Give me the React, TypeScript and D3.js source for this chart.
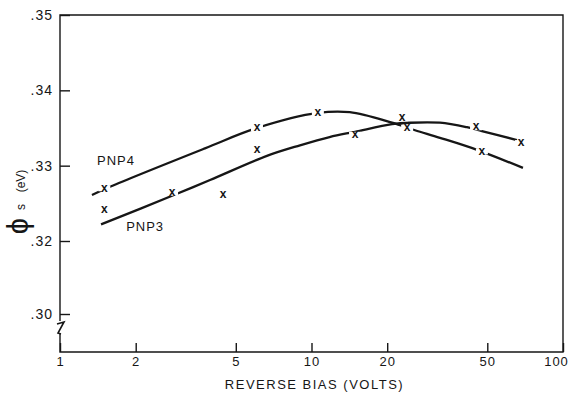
import { useEffect, useRef } from "react";
import * as d3 from "d3";

// smooth curves as drawn (bias in volts, phi_s in eV)
const pnp4CurveBias = [1.34, 1.58, 3.77, 6.07, 10.6, 14.2, 20.9, 25.8, 32.4, 45.5, 69.3];
const pnp4CurvePhi = [0.3261, 0.3272, 0.3323, 0.335, 0.337, 0.3371, 0.3357, 0.3347, 0.3337, 0.3321, 0.3297];
const pnp3CurveBias = [1.456, 2.79, 3.95, 6.65, 9.0, 11.8, 14.9, 20.9, 24.6, 32.4, 41.5, 47.6, 65.6];
const pnp3CurvePhi = [0.3222, 0.326, 0.3281, 0.3313, 0.3327, 0.3338, 0.3345, 0.3355, 0.3357, 0.3357, 0.3351, 0.3346, 0.3334];

// measured points (x marks)
const pnp4PointBias = [1.5, 6.07, 10.6, 24.0, 47.6];
const pnp4PointPhi = [0.327, 0.335, 0.337, 0.335, 0.3319];
const pnp3PointBias = [1.5, 2.79, 4.45, 6.07, 14.9, 22.9, 45.1, 68.1];
const pnp3PointPhi = [0.3241, 0.3264, 0.3262, 0.3321, 0.3341, 0.3363, 0.3351, 0.333];

const biasTicks = [1, 2, 5, 10, 20, 50, 100];
const phiTicks = [0.3, 0.32, 0.33, 0.34, 0.35];

const curveLabels = ["PNP4", "PNP3"];
const curveLabelBias = [1.67, 2.18];
const curveLabelPhi = [0.3301, 0.3213];

const font = "'Liberation Sans', Arial, sans-serif";
const ink = "#161616";

const App = () => {
  const chartRef = useRef<SVGSVGElement>(null);

  useEffect(() => {
    const left = 60;
    const right = 563;
    const top = 15;
    const bottom = 352;

    const svg = d3.select(chartRef.current);
    svg.selectAll("*").remove();

    const x = d3.scaleLog().domain([1, 100]).range([left, right]);
    // broken axis: .30 sits just above the break
    const y = d3.scaleLinear().domain([0.3, 0.32, 0.35]).range([314, 241, top]);

    // frame with the break mark on the left side
    svg
      .append("path")
      .attr("d", `M${left},321 V${top} H${right} V${bottom} H${left} V334`)
      .attr("fill", "none")
      .attr("stroke", ink)
      .attr("stroke-width", 1.4);
    svg
      .append("path")
      .attr("d", `M${left - 3},324 L${left + 4},322 L${left - 2},333 L${left + 1},334`)
      .attr("fill", "none")
      .attr("stroke", ink)
      .attr("stroke-width", 1.6);

    const xAxis = svg
      .append("g")
      .attr("transform", `translate(0,${bottom})`)
      .call(
        d3
          .axisBottom(x)
          .tickValues(biasTicks)
          .tickSize(-9)
          .tickPadding(5)
          .tickFormat(d3.format("d") as never),
      );
    xAxis.select(".domain").remove();
    xAxis.attr("font-family", font).attr("font-size", 13);
    xAxis.selectAll("line").attr("stroke", ink).attr("stroke-width", 1.4);
    xAxis
      .selectAll<SVGTextElement, number>("text")
      .attr("fill", ink)
      .attr("letter-spacing", 1)
      .attr("x", (d) => (d === 100 ? -7 : 0));

    const yAxis = svg
      .append("g")
      .attr("transform", `translate(${left},0)`)
      .call(
        d3
          .axisLeft(y)
          .tickValues(phiTicks)
          .tickSize(-10)
          .tickPadding(7)
          .tickFormat(((d: number) => d3.format(".2f")(d).replace(/^0/, "")) as never),
      );
    yAxis.select(".domain").remove();
    yAxis.attr("font-family", font).attr("font-size", 14);
    yAxis.selectAll("line").attr("stroke", ink).attr("stroke-width", 1.4);
    yAxis.selectAll("text").attr("fill", ink).attr("letter-spacing", 1);

    const drawCurve = (bias: number[], phi: number[]) => {
      const pts = bias.map((b, i) => [x(b), y(phi[i])] as [number, number]);
      svg
        .append("path")
        .attr("d", d3.line().curve(d3.curveCatmullRom.alpha(0.5))(pts))
        .attr("fill", "none")
        .attr("stroke", ink)
        .attr("stroke-width", 2.3);
    };
    drawCurve(pnp4CurveBias, pnp4CurvePhi);
    drawCurve(pnp3CurveBias, pnp3CurvePhi);

    const drawPoints = (bias: number[], phi: number[]) => {
      const g = svg.append("g");
      bias.forEach((b, i) => {
        g.append("rect")
          .attr("x", x(b) - 6)
          .attr("y", y(phi[i]) - 3)
          .attr("width", 12)
          .attr("height", 6)
          .attr("fill", "#fff");
      });
      bias.forEach((b, i) => {
        g.append("text")
          .attr("x", x(b))
          .attr("y", y(phi[i]))
          .attr("dy", "0.27em")
          .attr("text-anchor", "middle")
          .attr("font-family", font)
          .attr("font-size", 12)
          .attr("font-weight", "bold")
          .attr("fill", ink)
          .text("x");
      });
    };
    drawPoints(pnp4PointBias, pnp4PointPhi);
    drawPoints(pnp3PointBias, pnp3PointPhi);

    curveLabels.forEach((label, i) => {
      svg
        .append("text")
        .attr("x", x(curveLabelBias[i]))
        .attr("y", y(curveLabelPhi[i]))
        .attr("text-anchor", "middle")
        .attr("font-family", font)
        .attr("font-size", 13)
        .attr("letter-spacing", 1)
        .attr("fill", ink)
        .text(label);
    });

    svg
      .append("text")
      .attr("x", (left + right) / 2 + 3)
      .attr("y", 389)
      .attr("text-anchor", "middle")
      .attr("font-family", font)
      .attr("font-size", 13)
      .attr("letter-spacing", 1.5)
      .attr("fill", ink)
      .text("REVERSE BIAS (VOLTS)");

    // y label: phi, subscript s, unit
    const yLabel = [
      { t: "ϕ", cx: 28, cy: 226, size: 29 },
      { t: "s", cx: 25, cy: 207, size: 12 },
      { t: "(eV)", cx: 25, cy: 181, size: 12 },
    ];
    yLabel.forEach((l) => {
      svg
        .append("text")
        .attr("transform", `translate(${l.cx},${l.cy}) rotate(-90)`)
        .attr("text-anchor", "middle")
        .attr("font-family", font)
        .attr("font-size", l.size)
        .attr("fill", ink)
        .text(l.t);
    });

    return () => {
      d3.select(chartRef.current).selectAll("*").remove();
    };
  }, []);

  return (
    <svg
      ref={chartRef}
      width={572}
      height={395}
      style={{ position: "absolute", left: 0, top: 0, background: "#fff" }}
    ></svg>
  );
};

export default App;
